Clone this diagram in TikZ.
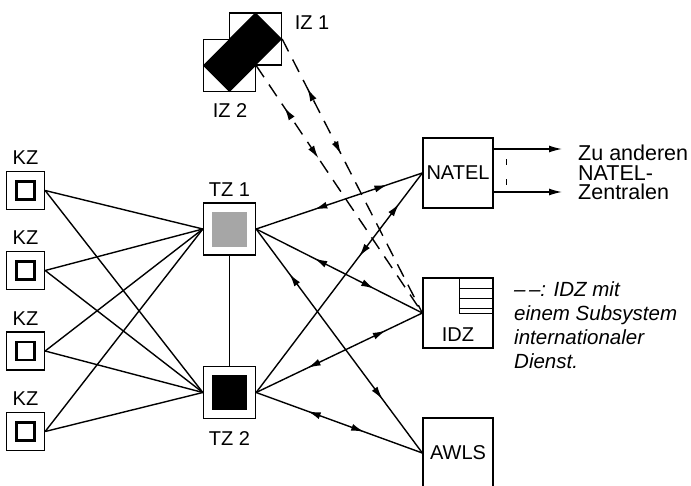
\documentclass[tikz,border=0pt]{standalone}
\usepackage{fontspec}
\setmainfont{Liberation Sans}
\usepackage{tikz}
\usetikzlibrary{positioning}
\usetikzlibrary{arrows.meta}
\usetikzlibrary{decorations.markings}

\tikzset{
  ptr/.tip={Latex[length=13pt,width=7pt]},
  box/.style={draw, line width=1.3pt, inner sep=0pt, minimum size=#1},
  box/.default=70pt,
  core/.style={draw, line width=2.6pt, inner sep=0pt, minimum size=18pt},
  tag/.style={inner sep=0pt, font=\fontsize{20}{22}\selectfont},
  link/.style={line width=1.4pt},
  twoway/.style 2 args={link, postaction={decorate}, decoration={markings,
      mark=at position #1 with {\arrowreversed{ptr}},
      mark=at position #2 with {\arrow{ptr}}}},
  radio/.style={dash pattern=on 14pt off 9pt}
}

\begin{document}
\begin{tikzpicture}[x=1pt, y=-1pt]
				\useasboundingbox (0,0) rectangle (691,485);

				% Kreiszentralen
				\node[box=38pt, label={[tag,label distance=6pt]above:KZ}] (K1) at (25.5,190.5) {};
				\node[box=38pt, label={[tag,label distance=6pt]above:KZ}] (K2) at (25.5,270.5) {};
				\node[box=38pt, label={[tag,label distance=6pt]above:KZ}] (K3) at (25.5,351) {};
				\node[box=38pt, label={[tag,label distance=6pt]above:KZ}] (K4) at (25.5,431.5) {};
				\node[core] (K1c) at (K1) {};
				\node[core] (K2c) at (K2) {};
				\node[core] (K3c) at (K3) {};
				\node[core] (K4c) at (K4) {};

				% Transitzentralen
				\node[box=52pt, label={[tag,label distance=6pt]above:TZ 1}] (TZ1) at (229.5,229) {};
				\node[box=52pt, label={[tag,label distance=12pt]below:TZ 2}] (TZ2) at (229.5,392.5) {};
				\node[fill=black!35, inner sep=0pt, minimum size=35pt] (TZ1c) at (TZ1) {};
				\node[fill=black, inner sep=0pt, minimum size=35pt] (TZ2c) at (TZ2) {};

				% internationale Zentralen
				\node[box=52pt] (IZ2) at (229.5,65.5) {};
				\node[box=52pt] (IZ1) at (255.5,39) {};
				\fill (IZ1.north) -- (IZ1.east) -- (IZ1.south) -- (IZ1.west) -- cycle;
				\fill (IZ2.north) -- (IZ2.east) -- (IZ2.south) -- (IZ2.west) -- cycle;
				\node[tag] (IZ1t) at (312,23) {IZ 1};
				\node[tag] (IZ2t) at (230,111) {IZ 2};

				% Dienste
				\node[box, tag] (NATEL) at (458,173) {NATEL};
				\node[box] (IDZ) at (458,313) {};
				\node[tag] (IDZt) at (458,335) {IDZ};
				\draw[line width=1.3pt] ([xshift=-34pt]IDZ.north east) |- ([yshift=-36pt]IDZ.north east)
					([yshift=-11pt]IDZ.north east) -- ++(-34pt,0)
					([yshift=-21pt]IDZ.north east) -- ++(-34pt,0)
					([yshift=-31pt]IDZ.north east) -- ++(-34pt,0);
				\node[box, tag] (AWLS) at (458,453) {AWLS};

				% KZ - TZ
				\draw[link] (K1.east) -- (TZ1.west);
				\draw[link] (K1.east) -- (TZ2.west);
				\draw[link] (K2.east) -- (TZ1.west);
				\draw[link] (K2.east) -- (TZ2.west);
				\draw[link] (K3.east) -- (TZ1.west);
				\draw[link] (K3.east) -- (TZ2.west);
				\draw[link] (K4.east) -- (TZ1.west);
				\draw[link] (K4.east) -- (TZ2.west);
				\draw[line width=1pt] (TZ1.south) -- (TZ2.north);

				% TZ - Dienste
				\draw[twoway={0.35}{0.79}] (TZ1.east) -- (NATEL.west);
				\draw[twoway={0.35}{0.71}] (TZ1.east) -- (IDZ.west);
				\draw[twoway={0.20}{0.76}] (TZ1.east) -- (AWLS.west);
				\draw[twoway={0.62}{0.86}] (TZ2.east) -- (NATEL.west);
				\draw[twoway={0.31}{0.78}] (TZ2.east) -- (IDZ.west);
				\draw[twoway={0.31}{0.65}] (TZ2.east) -- (AWLS.west);

				% IZ - IDZ
				\draw[twoway={0.17}{0.375}, radio] (IZ2.east) -- (IDZ.west);
				\draw[twoway={0.18}{0.42}, radio] (IZ1.east) -- (IDZ.west);

				% NATEL nach aussen
				\coordinate (out1) at (562,149);
				\coordinate (out2) at (562,192);
				\draw[link, -ptr] (NATEL.east |- out1) -- (out1);
				\draw[link, -ptr] (NATEL.east |- out2) -- (out2);
				\coordinate (d1) at (506,159);
				\coordinate (d2) at (506,187);
				\draw[line width=0.9pt, dash pattern=on 6pt off 14pt] (d1) -- (d2);
				\node[tag, anchor=north west, align=left, font=\fontsize{21.5}{19.5}\selectfont] (zu) at (578,145) {Zu anderen\\NATEL-\\Zentralen};

				\node[tag, anchor=north west, align=left, font=\itshape\fontsize{20.5}{24}\selectfont] (note) at (514,281) {\textendash\,\textendash: IDZ mit\\einem Subsystem\\internationaler\\Dienst.};
			\end{tikzpicture}
\end{document}
